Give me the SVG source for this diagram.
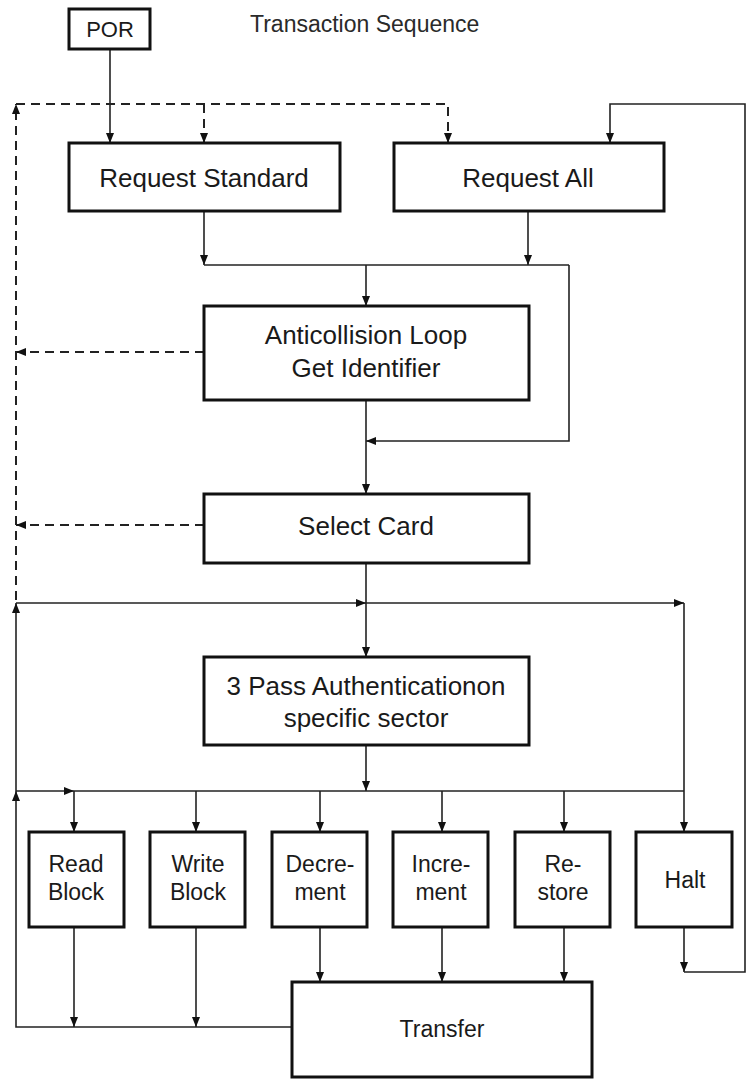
<svg xmlns="http://www.w3.org/2000/svg" width="747" height="1081" viewBox="0 0 747 1081">
<defs>
<style>
.box{fill:#fff;stroke:#111;stroke-width:3}
.t{font-family:"Liberation Sans",Arial,sans-serif;fill:#1a1a1a;text-anchor:middle}
.big{font-size:26px}
.sm{font-size:23px}
.c{fill:none;stroke:#222;stroke-width:1.6}
.d{fill:none;stroke:#222;stroke-width:2;stroke-dasharray:9 6}
</style>
<marker id="a" markerUnits="userSpaceOnUse" markerWidth="10" markerHeight="8" refX="10" refY="4" orient="auto">
<path d="M0,0 L10,4 L0,8 z" fill="#111"/>
</marker>
</defs>
<rect width="747" height="1081" fill="#fff"/>
<text x="250" y="32" font-family="Liberation Sans, Arial, sans-serif" font-size="23" fill="#2a2a2a">Transaction Sequence</text>

<g id="connectors">
<path class="c" d="M110,49 V143" marker-end="url(#a)"/>
<path class="c" d="M684,927 V972" marker-end="url(#a)"/>
<path class="c" d="M684,972 H745 V104 H610 V143" marker-end="url(#a)"/>
<path class="c" d="M204,211 V265" marker-end="url(#a)"/>
<path class="c" d="M528,211 V265" marker-end="url(#a)"/>
<path class="c" d="M204,265 H569"/>
<path class="c" d="M569,265 V441 H366" marker-end="url(#a)"/>
<path class="c" d="M366,265 V306" marker-end="url(#a)"/>
<path class="c" d="M366,400 V494" marker-end="url(#a)"/>
<path class="c" d="M366,563 V657" marker-end="url(#a)"/>
<path class="c" d="M16,603 H366" marker-end="url(#a)"/>
<path class="c" d="M366,603 H684" marker-end="url(#a)"/>
<path class="c" d="M684,603 V832" marker-end="url(#a)"/>
<path class="c" d="M366,745 V791" marker-end="url(#a)"/>
<path class="c" d="M16,791 H74" marker-end="url(#a)"/>
<path class="c" d="M74,791 H684"/>
<path class="c" d="M74,791 V832" marker-end="url(#a)"/>
<path class="c" d="M196,791 V832" marker-end="url(#a)"/>
<path class="c" d="M320,791 V832" marker-end="url(#a)"/>
<path class="c" d="M442,791 V832" marker-end="url(#a)"/>
<path class="c" d="M564,791 V832" marker-end="url(#a)"/>
<path class="c" d="M292,1027 H16 V791" marker-end="url(#a)"/>
<path class="c" d="M16,791 V603" marker-end="url(#a)"/>
<path class="c" d="M74,927 V1027" marker-end="url(#a)"/>
<path class="c" d="M196,927 V1027" marker-end="url(#a)"/>
<path class="c" d="M320,927 V982" marker-end="url(#a)"/>
<path class="c" d="M442,927 V982" marker-end="url(#a)"/>
<path class="c" d="M564,927 V982" marker-end="url(#a)"/>
<path class="d" d="M16,600 V104" marker-end="url(#a)"/>
<path class="d" d="M16,104 H448 V143" marker-end="url(#a)"/>
<path class="d" d="M204,104 V143" marker-end="url(#a)"/>
<path class="d" d="M204,352 H16" marker-end="url(#a)"/>
<path class="d" d="M204,525 H16" marker-end="url(#a)"/>
</g>

<g id="por"><rect class="box" x="69" y="9" width="81" height="40"/><text class="t" x="110" y="37" font-size="22">POR</text></g>
<g id="request-standard"><rect class="box" x="69" y="143" width="271" height="68"/><text class="t big" x="204" y="187">Request Standard</text></g>
<g id="request-all"><rect class="box" x="394" y="143" width="270" height="68"/><text class="t big" x="528" y="187">Request All</text></g>
<g id="anticollision"><rect class="box" x="204" y="306" width="325" height="94"/><text class="t big" x="366" y="344">Anticollision Loop</text><text class="t big" x="366" y="377">Get Identifier</text></g>
<g id="select-card"><rect class="box" x="204" y="494" width="325" height="69"/><text class="t big" x="366" y="535">Select Card</text></g>
<g id="auth"><rect class="box" x="204" y="657" width="325" height="88"/><text class="t big" x="366" y="695">3 Pass Authenticationon</text><text class="t big" x="366" y="727">specific sector</text></g>
<g id="read-block"><rect class="box" x="29" y="832" width="95" height="95"/><text class="t sm" x="76" y="872">Read</text><text class="t sm" x="76" y="900">Block</text></g>
<g id="write-block"><rect class="box" x="150" y="832" width="95" height="95"/><text class="t sm" x="198" y="872">Write</text><text class="t sm" x="198" y="900">Block</text></g>
<g id="decrement"><rect class="box" x="272" y="832" width="95" height="95"/><text class="t sm" x="320" y="872">Decre-</text><text class="t sm" x="320" y="900">ment</text></g>
<g id="increment"><rect class="box" x="393" y="832" width="95" height="95"/><text class="t sm" x="441" y="872">Incre-</text><text class="t sm" x="441" y="900">ment</text></g>
<g id="restore"><rect class="box" x="515" y="832" width="95" height="95"/><text class="t sm" x="563" y="872">Re-</text><text class="t sm" x="563" y="900">store</text></g>
<g id="halt"><rect class="box" x="636" y="832" width="96" height="95"/><text class="t sm" x="685" y="888">Halt</text></g>
<g id="transfer"><rect class="box" x="292" y="982" width="300" height="95"/><text class="t sm" x="442" y="1037">Transfer</text></g>
</svg>
